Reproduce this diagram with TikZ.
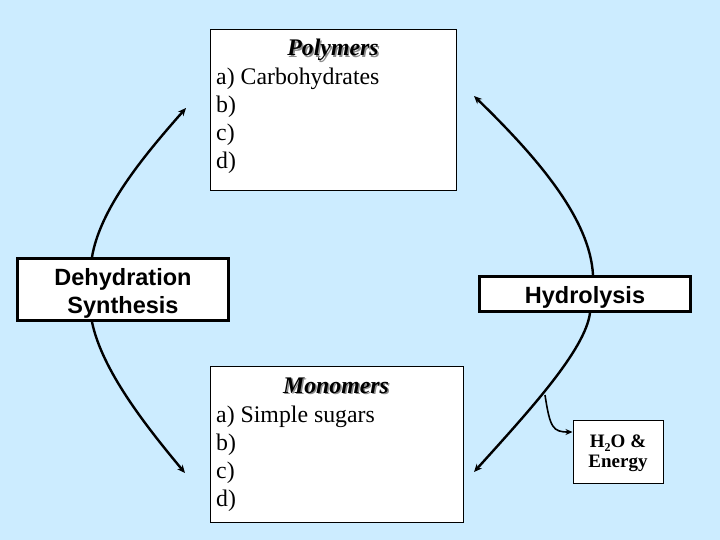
\documentclass[tikz,border=0pt]{standalone}
\usepackage{fontspec}
\setmainfont{Liberation Serif}
\newfontfamily\arialf{Liberation Sans}
\usetikzlibrary{arrows.meta}
\definecolor{bg}{RGB}{204,236,255}
\tikzset{
  thinbox/.style={draw=black, line width=1pt, fill=white, inner sep=0pt},
  thickbox/.style={draw=black, line width=3pt, fill=white, inner sep=0pt},
  listtxt/.style={anchor=base west, inner sep=0pt, font=\fontsize{23.8}{28}\selectfont},
  titletxt/.style={anchor=base, inner sep=0pt, font=\fontsize{23.8}{28}\selectfont\bfseries\itshape},
  shadowtxt/.style={titletxt, text=black!45},
  proctxt/.style={anchor=base, inner sep=0pt, font=\arialf\bfseries\fontsize{23.5}{28}\selectfont},
  smalltxt/.style={anchor=base, inner sep=0pt, font=\fontsize{19}{20}\selectfont\bfseries},
  flow/.style={line width=2.4pt, -{Stealth[length=8pt,width=7pt]}},
}
\begin{document}
\begin{tikzpicture}[x=1pt,y=-1pt]
\fill[bg] (0,0) rectangle (720,540);
\useasboundingbox (0,0) rectangle (720,540);

% boxes
\node[thinbox, minimum width=246pt, minimum height=161pt] (poly) at (333,110.5) {};
\node[thinbox, minimum width=253pt, minimum height=156pt] (mono) at (336.5,444) {};
\node[thickbox, minimum width=211pt, minimum height=62pt] (dehyd) at (123,289.5) {};
\node[thickbox, minimum width=211pt, minimum height=35pt] (hydro) at (585,294) {};
\node[thinbox, minimum width=90pt, minimum height=63pt] (h2o) at (618,451.5) {};

% Polymers text
\node[shadowtxt] (polyts) at (334.5,57.5) {Polymers};
\node[titletxt] (polyt) at (333,56) {Polymers};
\node[listtxt] (pa) at (216,85) {a) Carbohydrates};
\node[listtxt] (pb) at (216,113) {b)};
\node[listtxt] (pc) at (216,141) {c)};
\node[listtxt] (pd) at (216,169) {d)};

% Monomers text
\node[shadowtxt] (monots) at (337.5,394.5) {Monomers};
\node[titletxt] (monot) at (336,393) {Monomers};
\node[listtxt] (ma) at (216,422) {a) Simple sugars};
\node[listtxt] (mb) at (216,450) {b)};
\node[listtxt] (mc) at (216,478) {c)};
\node[listtxt] (md) at (216,506) {d)};

% process labels
\node[proctxt] (dt1) at (123,285) {Dehydration};
\node[proctxt] (dt2) at (123,313) {Synthesis};
\node[proctxt] (ht) at (585,303) {Hydrolysis};
\node[smalltxt] (e1) at (618,447) {H\raisebox{-4pt}{\fontsize{12}{12}\selectfont 2}O \&};
\node[smalltxt] (e2) at (618,467) {Energy};

% arrow ends
\coordinate (lu) at (186,108);
\coordinate (ll) at (185,473);
\coordinate (ru) at (474,96);
\coordinate (rl) at (474,472);
\coordinate (br) at (545,395);

\draw[flow] ([xshift=-31pt]dehyd.north) .. controls (100,210) and (140,160) .. (lu);
\draw[flow] ([xshift=-31pt]dehyd.south) .. controls (102,370) and (145,425) .. (ll);
\draw[flow] ([xshift=8pt]hydro.north) .. controls (590,220) and (540,160) .. (ru);
\draw[flow] ([xshift=5pt]hydro.south) .. controls (585,350) and (530,410) .. (rl);
\draw[line width=1.6pt, -{Stealth[length=7pt,width=6pt]}] (br) .. controls (550,428) and (553,432) .. ([yshift=19.5pt]h2o.west);
\end{tikzpicture}
\end{document}
